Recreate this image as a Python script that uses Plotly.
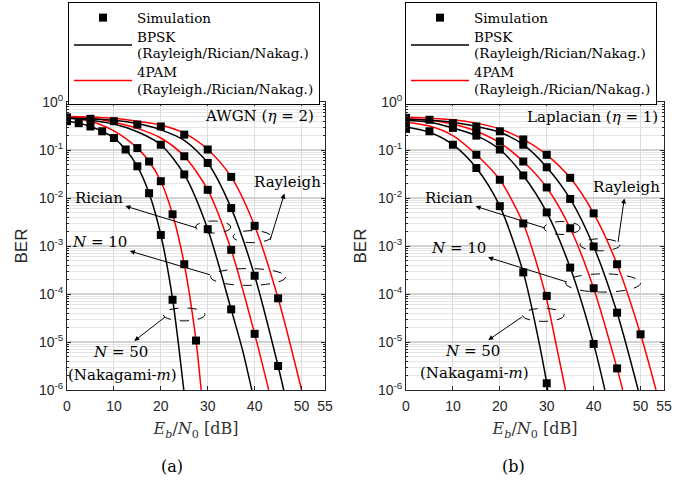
import numpy as np
import plotly.graph_objects as go

SERIF = "DejaVu Serif"
SANS = "Liberation Sans"
W, H = 689, 480

# ---------------- data: panel (a) AWGN (eta = 2) ; values are log10(BER) ----------------
a_bpsk1_db = [0, 2.5, 5, 7.5, 10, 12.5, 15, 17.5, 20, 22.5, 24.9]
a_bpsk1_lg = [-0.40, -0.44, -0.51, -0.61, -0.75, -0.99, -1.34, -1.90, -2.77, -4.10, -6.0]
a_pam1_db = [0, 5, 10, 15, 17.5, 20, 22.5, 25, 27.5, 28.6]
a_pam1_lg = [-0.31, -0.40, -0.60, -0.96, -1.24, -1.65, -2.34, -3.38, -4.97, -6.0]
a_bpsk2_db = [0, 5, 10, 15, 20, 25, 30, 35, 37.5, 39.4]
a_bpsk2_lg = [-0.34, -0.38, -0.46, -0.62, -0.89, -1.51, -2.65, -4.32, -5.20, -6.0]
a_pam2_db = [0, 5, 10, 15, 20, 25, 30, 35, 40, 43]
a_pam2_lg = [-0.31, -0.34, -0.42, -0.55, -0.75, -1.13, -1.83, -3.08, -4.83, -6.0]
a_bpsk3_db = [0, 5, 10, 15, 20, 25, 30, 35, 40, 45, 46.2]
a_bpsk3_lg = [-0.33, -0.35, -0.38, -0.45, -0.58, -0.80, -1.27, -2.21, -3.62, -5.50, -6.0]
a_pam3_db = [0, 5, 10, 15, 20, 25, 30, 35, 40, 45, 50]
a_pam3_lg = [-0.30, -0.31, -0.34, -0.40, -0.48, -0.65, -0.99, -1.56, -2.58, -4.09, -6.0]

a_sim_db = [0, 0, 2.5, 5, 5, 7.5, 10, 10, 12.5, 15, 15, 15, 17.5, 17.5,
            20, 20, 20, 20, 22.5, 22.5, 25, 25, 25, 25, 27.5,
            30, 30, 30, 30, 35, 35, 35, 35, 40, 40, 40, 45, 45]
a_sim_lg = [-0.32, -0.40, -0.44, -0.35, -0.51, -0.61, -0.40, -0.75, -0.99, -0.47, -0.96, -1.34, -1.24, -1.90,
            -0.51, -0.89, -1.65, -2.77, -2.34, -4.12, -0.68, -1.13, -1.51, -3.38, -4.97,
            -0.99, -1.27, -1.83, -2.65, -1.56, -2.21, -3.08, -4.32, -2.58, -3.62, -4.83, -4.09, -5.50]

# ---------------- data: panel (b) Laplacian (eta = 1) ----------------
b_bpsk1_db = [0, 5, 10, 15, 20, 25, 27.5, 30, 30.2]
b_bpsk1_lg = [-0.52, -0.63, -0.89, -1.375, -2.17, -3.55, -4.60, -5.86, -6.0]
b_pam1_db = [0, 5, 10, 15, 20, 25, 27.5, 30, 32, 34]
b_pam1_lg = [-0.42, -0.50, -0.70, -1.10, -1.62, -2.53, -3.25, -4.12, -5.05, -6.0]
b_bpsk2_db = [0, 5, 10, 15, 20, 25, 30, 35, 40, 42.4]
b_bpsk2_lg = [-0.38, -0.42, -0.54, -0.70, -0.99, -1.53, -2.30, -3.45, -5.04, -6.0]
b_pam2_db = [0, 5, 10, 15, 20, 25, 30, 35, 40, 45, 46.2]
b_pam2_lg = [-0.35, -0.38, -0.46, -0.61, -0.85, -1.24, -1.78, -2.63, -3.88, -5.55, -6.0]
b_bpsk3_db = [0, 5, 10, 15, 20, 25, 30, 35, 40, 45, 49.5]
b_bpsk3_lg = [-0.36, -0.38, -0.42, -0.51, -0.63, -0.89, -1.36, -2.02, -3.01, -4.39, -6.0]
b_pam3_db = [0, 5, 10, 15, 20, 25, 30, 35, 40, 45, 50, 53.3]
b_pam3_lg = [-0.32, -0.34, -0.37, -0.44, -0.56, -0.78, -1.10, -1.58, -2.32, -3.38, -4.84, -6.0]

b_sim_db = [0, 0, 0, 5, 5, 10, 10, 10, 15, 15, 15, 15, 15,
            20, 20, 20, 20, 20, 25, 25, 25, 25, 25, 25,
            30, 30, 30, 30, 30, 30, 35, 35, 35, 35, 40, 40, 40, 40, 45, 45, 45, 50]
b_sim_lg = [-0.33, -0.45, -0.56, -0.37, -0.61, -0.44, -0.54, -0.89, -0.51, -0.61, -0.70, -1.10, -1.375,
            -0.61, -0.82, -0.99, -1.62, -2.17, -0.78, -0.89, -1.24, -1.53, -2.53, -3.55,
            -1.10, -1.36, -1.78, -2.30, -4.04, -5.86, -1.58, -2.02, -2.63, -3.45, -2.32, -3.01, -3.88, -5.04,
            -3.38, -4.39, -5.55, -4.84]

x_tickvals = [0, 10, 20, 30, 40, 50, 55]
y_tickvals = [1, 1e-1, 1e-2, 1e-3, 1e-4, 1e-5, 1e-6]
y_ticktext = ["10<sup>0</sup>", "10<sup>-1</sup>", "10<sup>-2</sup>", "10<sup>-3</sup>",
              "10<sup>-4</sup>", "10<sup>-5</sup>", "10<sup>-6</sup>"]

LS = '<span style="font-size:13.5px">'
SIM_NAME = LS + "Simulation</span>"
BPSK_NAME = LS + "BPSK</span><br>" + LS + "(Rayleigh/Rician/Nakag.)</span>"
PAM_NAME = LS + "4PAM</span><br>" + LS + "(Rayleigh./Rician/Nakag.)</span>"

fig = go.Figure()

panels = [
    ("x", "y", "legend", [(a_bpsk1_db, a_bpsk1_lg, "k"), (a_pam1_db, a_pam1_lg, "r"),
                          (a_bpsk2_db, a_bpsk2_lg, "k"), (a_pam2_db, a_pam2_lg, "r"),
                          (a_bpsk3_db, a_bpsk3_lg, "k"), (a_pam3_db, a_pam3_lg, "r")],
     a_sim_db, a_sim_lg),
    ("x2", "y2", "legend2", [(b_bpsk1_db, b_bpsk1_lg, "k"), (b_pam1_db, b_pam1_lg, "r"),
                             (b_bpsk2_db, b_bpsk2_lg, "k"), (b_pam2_db, b_pam2_lg, "r"),
                             (b_bpsk3_db, b_bpsk3_lg, "k"), (b_pam3_db, b_pam3_lg, "r")],
     b_sim_db, b_sim_lg),
]

for xa, ya, lg, curves, sdb, slg in panels:
    shown = {"k": False, "r": False}
    for xs, ls, c in curves:
        color = "#000000" if c == "k" else "#ff0000"
        fig.add_trace(go.Scatter(
            x=xs, y=10.0 ** np.array(ls), mode="lines",
            line=dict(color=color, width=1.5, shape="spline", smoothing=0.8),
            xaxis=xa, yaxis=ya, legend=lg,
            name=BPSK_NAME if c == "k" else PAM_NAME,
            legendrank=2 if c == "k" else 3,
            showlegend=not shown[c], hoverinfo="skip"))
        shown[c] = True
    fig.add_trace(go.Scatter(
        x=sdb, y=10.0 ** np.array(slg), mode="markers",
        marker=dict(symbol="square", size=8, color="black", line=dict(width=0)),
        xaxis=xa, yaxis=ya, legend=lg, name=SIM_NAME, legendrank=1,
        showlegend=True, hoverinfo="skip"))

axcol = "#262626"
xcommon = dict(range=[0, 55], tickmode="array", tickvals=x_tickvals,
               ticktext=[str(v) for v in x_tickvals], automargin=False,
               showline=True, linecolor=axcol, linewidth=1, mirror="ticks",
               ticks="inside", ticklen=4, tickcolor=axcol, ticklabelstandoff=3,
               showgrid=True, gridcolor="#dcdcdc", gridwidth=1, zeroline=False,
               tickfont=dict(family=SANS, size=14, color=axcol),
               title=dict(text="<i>E<sub>b</sub></i>/<i>N</i><sub>0</sub> [dB]",
                          font=dict(family=SERIF, size=16, color="#333333"), standoff=10))
ycommon = dict(type="log", range=[-6, 0], tickmode="array", tickvals=y_tickvals,
               ticktext=y_ticktext, automargin=False,
               showline=True, linecolor=axcol, linewidth=1, mirror="ticks",
               ticks="inside", ticklen=4, tickcolor=axcol,
               showgrid=True, gridcolor="#d2d2d2", gridwidth=1.5, zeroline=False,
               minor=dict(dtick="D1", showgrid=True, gridcolor="#e6e6e6", gridwidth=1,
                          ticks="inside", ticklen=2, tickcolor=axcol),
               tickfont=dict(family=SANS, size=14, color=axcol),
               title=dict(text="BER", font=dict(family=SANS, size=17, color=axcol), standoff=6))

ytop = 1 - 102 / H
ybot = 1 - 390 / H
fig.update_layout(
    width=W, height=H, margin=dict(l=0, r=0, t=0, b=0, autoexpand=False),
    paper_bgcolor="white", plot_bgcolor="white", showlegend=True,
    xaxis=dict(domain=[67 / W, 325 / W], anchor="y", **xcommon),
    yaxis=dict(domain=[ybot, ytop], anchor="x", **ycommon),
    xaxis2=dict(domain=[406 / W, 664 / W], anchor="y2", **xcommon),
    yaxis2=dict(domain=[ybot, ytop], anchor="x2", **ycommon),
)

leg_common = dict(xanchor="left", yanchor="top", xref="paper", yref="paper",
                  bordercolor="black", borderwidth=1, bgcolor="white",
                  font=dict(family=SERIF, size=12.5, color="black"),
                  itemwidth=58, tracegroupgap=0, valign="middle")
fig.update_layout(legend=dict(x=68 / W, y=1 - 2 / H, **leg_common),
                  legend2=dict(x=405 / W, y=1 - 2 / H, **leg_common))

ann = []
shapes = []
tfont = dict(family=SERIF, size=15, color="black")


def text(xr, yr, x, y, t, xanchor="center", tail=None):
    d = dict(xref=xr, yref=yr, text=t, xanchor=xanchor, yanchor="middle", font=tfont)
    if tail is None:
        d.update(x=x, y=y, showarrow=False)
    else:
        # arrow drawn from the ellipse (tail) to the label; head sits at the label
        d.update(x=tail[0], y=tail[1], axref=xr, ayref=yr, ax=x, ay=y, showarrow=True,
                 arrowside="start", startarrowhead=2, startarrowsize=1,
                 arrowwidth=1, arrowcolor="black", startstandoff=1, standoff=0)
    ann.append(d)


def ellipse(xr, yr, x0, x1, l0, l1):
    shapes.append(dict(type="circle", xref=xr, yref=yr, x0=x0, x1=x1,
                       y0=10 ** l0, y1=10 ** l1,
                       line=dict(color="black", width=1, dash="dash")))


# panel (a)
text("x", "y", 53, -0.29, "AWGN (<i>η</i> = 2)", "right")
text("x", "y", 47.1, -1.67, "Rayleigh", tail=(43.3, -2.875))
ellipse("x", "y", 35.4, 43.5, -2.68, -2.93)
text("x", "y", 6.8, -2.0, "Rician", tail=(27.7, -2.625))
ellipse("x", "y", 27.4, 34.9, -2.48, -2.73)
text("x", "y", 7.0, -2.92, "<i>N</i> = 10", tail=(30.5, -3.6))
ellipse("x", "y", 30.6, 46.6, -3.47, -3.82)
ellipse("x", "y", 20.5, 29.4, -4.29, -4.56)
text("x", "y", 11.3, -5.21, "<i>N</i> = 50", tail=(20.9, -4.48))
text("x", "y", 11.9, -5.69, "(Nakagami-<i>m</i>)")

# panel (b)
text("x2", "y2", 54.2, -0.31, "Laplacian (<i>η</i> = 1)", "right")
text("x2", "y2", 46.9, -1.77, "Rayleigh", tail=(45.2, -2.92))
ellipse("x2", "y2", 37.1, 45.6, -2.85, -3.10)
text("x2", "y2", 9.2, -2.0, "Rician", tail=(29.6, -2.625))
ellipse("x2", "y2", 29.4, 37.1, -2.49, -2.76)
text("x2", "y2", 11.1, -3.04, "<i>N</i> = 10", tail=(34.3, -3.75))
ellipse("x2", "y2", 34.0, 50.0, -3.58, -3.96)
ellipse("x2", "y2", 24.8, 33.7, -4.30, -4.57)
text("x2", "y2", 14.1, -5.19, "<i>N</i> = 50", tail=(24.7, -4.48))
text("x2", "y2", 14.7, -5.65, "(Nakagami-<i>m</i>)")

# captions
for cx, t in [(172, "(a)"), (513, "(b)")]:
    ann.append(dict(xref="paper", yref="paper", x=cx / W, y=1 - 466 / H, text=t,
                    showarrow=False, xanchor="center", yanchor="middle",
                    font=dict(family=SERIF, size=16, color="black")))

fig.update_layout(annotations=ann, shapes=shapes)
fig.write_html("out.html")
